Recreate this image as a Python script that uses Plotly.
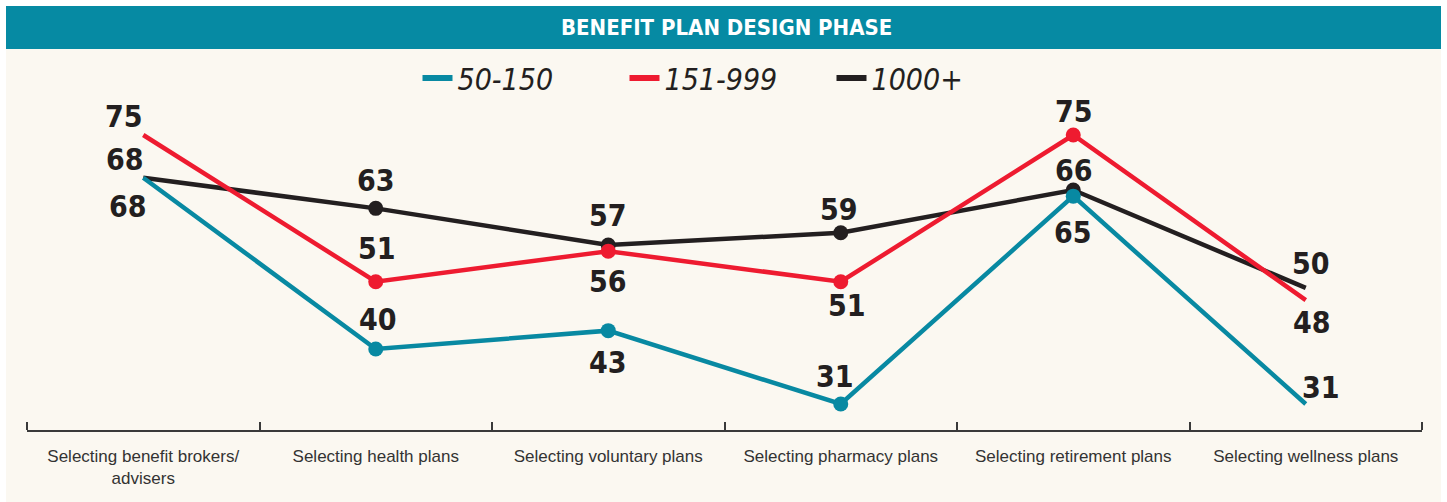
import plotly.graph_objects as go

categories = [
    "Selecting benefit brokers/<br>advisers",
    "Selecting health plans",
    "Selecting voluntary plans",
    "Selecting pharmacy plans",
    "Selecting retirement plans",
    "Selecting wellness plans",
]
series_names = ["50-150", "151-999", "1000+"]
vals_50_150 = [68, 40, 43, 31, 65, 31]
vals_151_999 = [75, 51, 56, 51, 75, 48]
vals_1000 = [68, 63, 57, 59, 66, 50]
values = {"50-150": vals_50_150, "151-999": vals_151_999, "1000+": vals_1000}

colors = {"50-150": "#0889a2", "151-999": "#ee1b30", "1000+": "#231f20"}

# label offsets from each point in pixels (dx right, dy down)
label_offsets = {
    "50-150": [(-15, 29), (2, -29), (0, 32), (-6, -28), (0, 36), (15, -17)],
    "151-999": [(-19, -19), (1, -33), (0, 30), (6, 24), (1, -24), (6, 22)],
    "1000+": [(-18, -18), (0, -28), (0, -30), (-2, -23), (1, -20), (5, -24)],
}

W, H = 1447, 502
ML, MR, MT, MB = 27, 25, 100, 72
PW, PH = W - ML - MR, H - MT - MB
PX_PER_UNIT = 6.114


def px_x(p):
    return (p - ML) / PW


def px_y(p):
    return (H - MB - p) / PH


LABEL_FONT = "DejaVu Sans Condensed, Liberation Sans Narrow, Arial Narrow, sans-serif"
xs = list(range(len(categories)))
msize = [0] + [15] * (len(categories) - 2) + [0]

fig = go.Figure()
for name in ["1000+", "151-999", "50-150"]:
    fig.add_trace(go.Scatter(
        x=xs, y=values[name], mode="lines+markers",
        line=dict(color=colors[name], width=4.5),
        marker=dict(color=colors[name], size=msize, opacity=1, line=dict(width=0)),
        cliponaxis=False, showlegend=False, hoverinfo="skip",
    ))
    for xi, v, (dx, dy) in zip(xs, values[name], label_offsets[name]):
        fig.add_annotation(
            x=xi, y=v, xref="x", yref="y", text=f"<b>{v}</b>", showarrow=False,
            xanchor="center", yanchor="middle", xshift=dx, yshift=-dy,
            font=dict(family=LABEL_FONT, size=30, color="#231f20"),
        )
for name in series_names:
    fig.add_trace(go.Scatter(
        x=[None], y=[None], mode="lines", name=name,
        line=dict(color=colors[name], width=6),
    ))

fig.add_shape(type="rect", xref="paper", yref="paper", layer="below",
              x0=px_x(6), x1=px_x(1441), y0=px_y(502), y1=px_y(49),
              fillcolor="#fbf8f1", line=dict(width=0))
fig.add_shape(type="rect", xref="paper", yref="paper",
              x0=px_x(6), x1=px_x(1441), y0=px_y(49), y1=px_y(6),
              fillcolor="#068aa3", line=dict(width=0))
fig.add_annotation(xref="paper", yref="paper", x=px_x(726), y=px_y(28),
                   xanchor="center", yanchor="middle",
                   text="<b>BENEFIT PLAN DESIGN PHASE</b>", showarrow=False,
                   font=dict(family=LABEL_FONT, size=22, color="white"))

fig.update_layout(
    width=W, height=H,
    margin=dict(l=ML, r=MR, t=MT, b=MB),
    paper_bgcolor="white", plot_bgcolor="rgba(0,0,0,0)",
    legend=dict(orientation="h", x=px_x(728), xanchor="center", y=px_y(78), yanchor="middle",
                font=dict(family=LABEL_FONT, size=30, color="#231f20", style="italic"),
                bgcolor="rgba(0,0,0,0)", entrywidth=162, entrywidthmode="pixels"),
    xaxis=dict(
        range=[-0.5, len(categories) - 0.5], tickmode="array", tickvals=xs, ticktext=categories,
        ticks="", showgrid=False, zeroline=False, showline=True, linecolor="#3a3a3a", linewidth=1.5,
        tickfont=dict(family="Liberation Sans, Arial, sans-serif", size=17, color="#333333"),
        ticklabelstandoff=10,
        minor=dict(tickmode="array", tickvals=[i - 0.5 for i in range(len(categories) + 1)],
                   ticks="inside", ticklen=8, tickwidth=1.5, tickcolor="#3a3a3a", showgrid=False),
    ),
    yaxis=dict(range=[26.75, 26.75 + PH / PX_PER_UNIT], visible=False),
)

fig.write_html("out.html", config={"displayModeBar": False},
               post_script="document.body.style.margin='0';")
